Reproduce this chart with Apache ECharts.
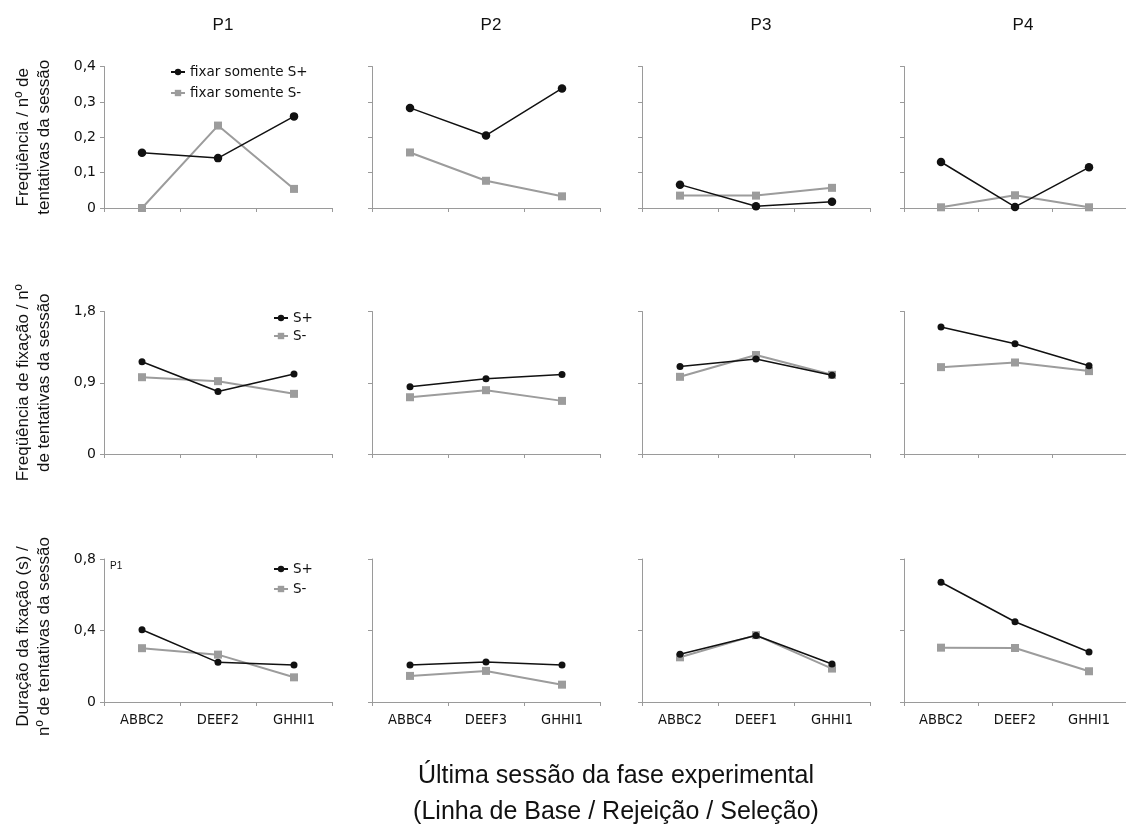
<!DOCTYPE html>
<html><head><meta charset="utf-8">
<script src="https://cdn.jsdelivr.net/npm/echarts@6/dist/echarts.min.js"></script>
<style>html,body{margin:0;padding:0;background:#fff}#c{width:1126px;height:827px}</style>
</head><body><div id="c"></div>
<script>
const participants = ['P1','P2','P3','P4'];
const categories = [
  ['ABBC2','DEEF2','GHHI1'],
  ['ABBC4','DEEF3','GHHI1'],
  ['ABBC2','DEEF1','GHHI1'],
  ['ABBC2','DEEF2','GHHI1']
];
// Row 1: Frequência (fixar somente) / nº de tentativas
const onlySPlus  = [[0.156,0.141,0.259],[0.283,0.205,0.338],[0.066,0.005,0.018],[0.130,0.003,0.115]];
const onlySMinus = [[0.000,0.233,0.054],[0.157,0.077,0.033],[0.035,0.035,0.057],[0.002,0.036,0.002]];
// Row 2: Frequência de fixação / nº de tentativas
const freqSPlus  = [[1.165,0.790,1.010],[0.848,0.950,1.004],[1.105,1.200,0.996],[1.604,1.392,1.114]];
const freqSMinus = [[0.970,0.920,0.760],[0.717,0.806,0.671],[0.975,1.250,1.000],[1.097,1.156,1.047]];
// Row 3: Duração da fixação (s) / nº de tentativas
const durSPlus   = [[0.404,0.222,0.207],[0.207,0.224,0.207],[0.267,0.372,0.213],[0.670,0.449,0.280]];
const durSMinus  = [[0.301,0.265,0.138],[0.146,0.174,0.097],[0.250,0.374,0.187],[0.304,0.302,0.172]];
const rowMax = [0.4, 1.8, 0.8];
const rowInterval = [0.1, 0.9, 0.4];
const rowNames = [
  'Freqüência / nº de\ntentativas da sessão',
  'Freqüência de fixação / nº\nde tentativas da sessão',
  'Duração da fixação (s) /\nnº de tentativas da sessão'
];
const seriesNames = [
  ['fixar somente S+','fixar somente S-'],
  ['S+','S-'],
  ['S+','S-']
];
const rowData = [[onlySPlus, onlySMinus],[freqSPlus, freqSMinus],[durSPlus, durSMinus]];
const xAxisTitle = 'Última sessão da fase experimental\n(Linha de Base / Rejeição / Seleção)';

const lefts = [104, 372, 642, 904];
const gridW = 228;
const tops = [66.5, 311.5, 559];
const heights = [141.5, 142.5, 143];
const axisCol = '#9a9a9a';
const labelFont = 'DejaVu Sans Condensed, DejaVu Sans';

const grid = [], xAxis = [], yAxis = [], series = [];
let gi = 0;
for (let r = 0; r < 3; r++) {
  for (let p = 0; p < 4; p++) {
    grid.push({left: lefts[p], top: tops[r], width: gridW, height: heights[r]});
    xAxis.push({
      type: 'category', gridIndex: gi, data: categories[p], boundaryGap: true,
      axisLine: {lineStyle: {color: axisCol, width: 1}},
      axisTick: {show: true, interval: 0, length: 4, lineStyle: {color: axisCol}},
      axisLabel: {show: r === 2, interval: 0, margin: 11, color: '#111', fontSize: 14.5, fontFamily: labelFont},
      splitLine: {show: false}
    });
    yAxis.push({
      type: 'value', gridIndex: gi, min: 0, max: rowMax[r], interval: rowInterval[r],
      axisLine: {show: true, lineStyle: {color: axisCol, width: 1}},
      axisTick: {show: true, length: 4, lineStyle: {color: axisCol}},
      axisLabel: {show: p === 0, margin: 8, color: '#111', fontSize: 14, fontFamily: 'DejaVu Sans',
        formatter: v => v === 0 ? '0' : String(+v.toFixed(1)).replace('.', ',')},
      splitLine: {show: false}
    });
    const big = r === 0;
    series.push({
      name: seriesNames[r][1], type: 'line', xAxisIndex: gi, yAxisIndex: gi,
      data: rowData[r][1][p], symbol: 'rect', symbolSize: 8,
      lineStyle: {color: '#9c9c9c', width: 2}, itemStyle: {color: '#9c9c9c'},
      animation: false, z: 2
    });
    series.push({
      name: seriesNames[r][0], type: 'line', xAxisIndex: gi, yAxisIndex: gi,
      data: rowData[r][0][p], symbol: 'circle', symbolSize: big ? 8.5 : 7,
      lineStyle: {color: '#111', width: 1.5}, itemStyle: {color: '#111'},
      animation: false, z: 3
    });
    gi++;
  }
}

const legendCommon = {
  orient: 'vertical', padding: 0, itemWidth: 14, itemHeight: 8,
  textStyle: {fontSize: 13.5, fontFamily: 'DejaVu Sans', color: '#111'}
};
const legend = [
  Object.assign({}, legendCommon, {left: 170, top: 65, itemGap: 7, data: seriesNames[0]}),
  Object.assign({}, legendCommon, {left: 273, top: 311, itemGap: 4, data: ['S+','S-']}),
  Object.assign({}, legendCommon, {left: 273, top: 562, itemGap: 6, data: ['S+','S-']})
];

const title = participants.map((p, i) => ({
  text: p, left: lefts[i] + gridW / 2, top: 12,
  textAlign: 'center',
  textStyle: {fontSize: 17, fontWeight: 'normal', fontFamily: 'Liberation Sans', color: '#111'}
}));

const graphic = [];
for (let r = 0; r < 3; r++) {
  graphic.push({
    type: 'text', x: 34, y: tops[r] + heights[r] / 2 + (r === 2 ? 6 : 0), rotation: Math.PI / 2,
    style: {text: rowNames[r], fontSize: 17, lineHeight: 21, fontFamily: 'Liberation Sans',
      fill: '#111', textAlign: 'center', textVerticalAlign: 'middle'}
  });
}
graphic.push({
  type: 'text', x: 110, y: 566,
  style: {text: 'P1', fontSize: 10, fontFamily: 'Liberation Sans', fill: '#111', textVerticalAlign: 'middle'}
});
graphic.push({
  type: 'text', x: 616, y: 794,
  style: {text: xAxisTitle, fontSize: 25, lineHeight: 36, fontFamily: 'Liberation Sans',
    fill: '#111', textAlign: 'center', textVerticalAlign: 'middle'}
});

const chart = echarts.init(document.getElementById('c'), null, {renderer: 'canvas'});
chart.setOption({animation: false, title, legend, grid, xAxis, yAxis, series, graphic});
</script></body></html>
